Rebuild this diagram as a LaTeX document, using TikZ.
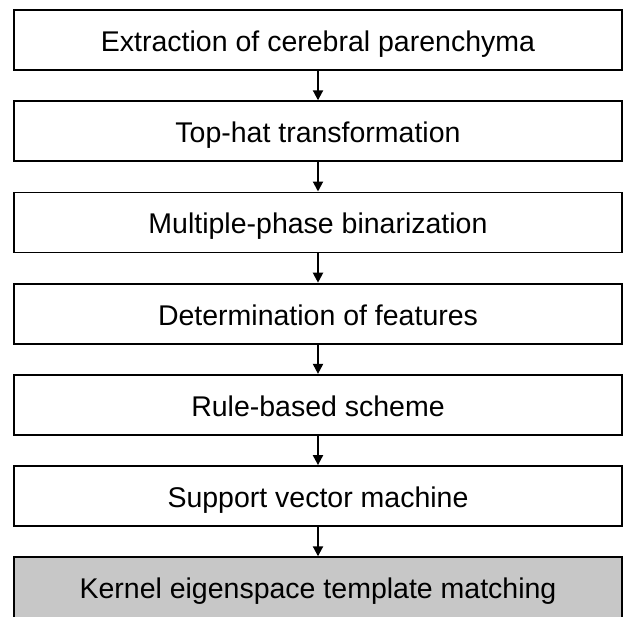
\documentclass[tikz,border=0pt]{standalone}
\usepackage{fontspec}
\setmainfont{Liberation Sans}
\usetikzlibrary{arrows.meta}
\tikzset{
  stagebox/.style={draw, line width=1.8pt, minimum width=608pt, minimum height=60pt,
    inner sep=0pt, text height=22.8pt, text depth=0pt, font=\fontsize{28.5}{34}\selectfont},
  flowarrow/.style={-{Triangle[length=10pt,width=10pt]}, line width=2pt}
}
\begin{document}
\begin{tikzpicture}[x=1pt,y=-1pt]
  \useasboundingbox (0,0) rectangle (624,616);
  \foreach[count=\i,evaluate={40+91.2*(\i-1)} as \y] \t in {Extraction of cerebral parenchyma,Top-hat transformation,Multiple-phase binarization,Determination of features,Rule-based scheme,Support vector machine} {
    \node[stagebox] (s\i) at (318,\y) {\t};
  }
  % last stage runs past the lower edge
  \node[stagebox,fill=black!22,minimum height=64pt,text height=18.4pt] (s7) at (318,589.2) {Kernel eigenspace template matching};
  \foreach \i [count=\j from 2] in {1,...,6} {
    \draw[flowarrow] (s\i) -- (s\j);
  }
\end{tikzpicture}
\end{document}
